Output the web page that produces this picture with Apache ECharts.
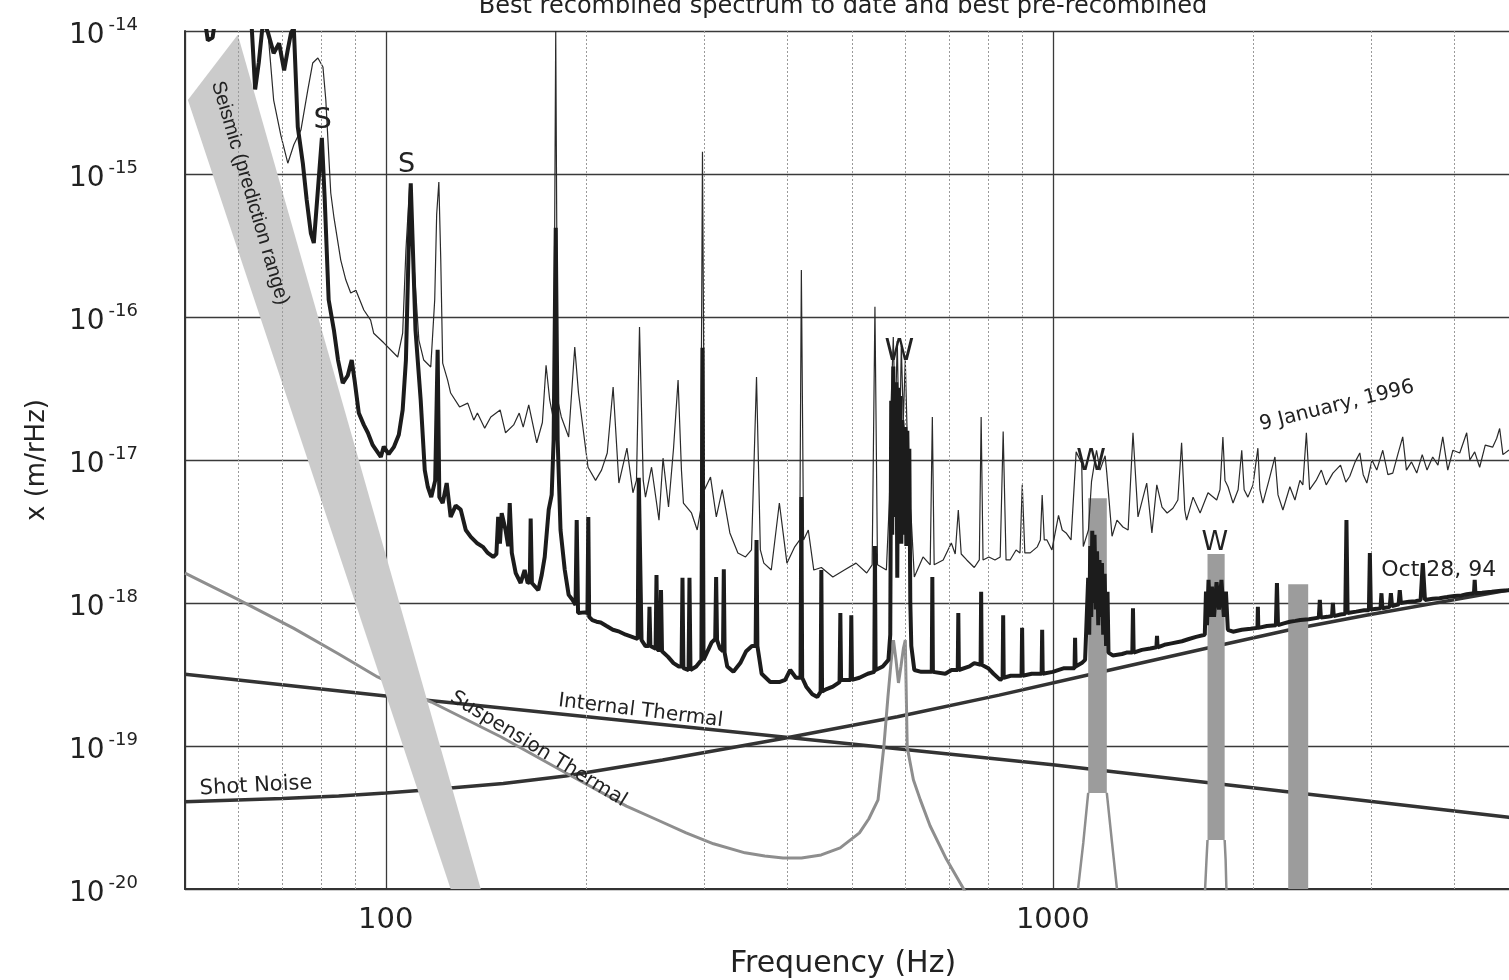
<!DOCTYPE html>
<html><head><meta charset="utf-8">
<script src="https://cdn.jsdelivr.net/npm/echarts@6/dist/echarts.min.js"></script>
<style>html,body{margin:0;padding:0;background:#fff;overflow:hidden}#c{width:1509px;height:980px}</style>
</head><body><div id="c"></div>
<script>
// ---------- tick labels ----------
const xLabelTicks = [100, 1000];
const yLabelExps = [-20, -19, -18, -17, -16, -15, -14];
const xMinorTicks = [60, 70, 80, 90, 200, 300, 400, 500, 600, 700, 800, 900, 2000, 3000, 4000];
const yMinorMantissas = [2, 3, 4, 5, 6, 7, 8, 9];

// ---------- theory curves [Hz, m/rHz] ----------
const shotNoise = [[50,4.07e-20],[70,4.3e-20],[85,4.47e-20],[100,4.69e-20],[120,5.0e-20],[150,5.47e-20],[186,6.17e-20],[260,7.98e-20],[394,1.13e-19],[585,1.6e-19],[831,2.27e-19],[1137,3.16e-19],[1700,4.82e-19],[2267,6.5e-19],[2950,8.2e-19],[4825,1.23e-18],[5000,1.27e-18]];
const internalThermal = [[50,3.17e-19],[100,2.24e-19],[1000,7.4e-20],[4825,3.17e-20],[5000,3.1e-20]];
const suspensionThermal = [[50,1.62e-18],[60,1.06e-18],[72.8,6.65e-19],[85,4.4e-19],[97.2,3.04e-19],[117,2.03e-19],[148.7,1.16e-19],[186,6.5e-20],[229.5,3.8e-20],[255,3.05e-20],[282,2.47e-20],[310,2.07e-20],[345.6,1.79e-20],[370,1.7e-20],[394,1.65e-20],[420,1.65e-20],[449.6,1.73e-20],[480,1.94e-20],[513,2.47e-20],[530,3.1e-20],[547,4.2e-20],[558,9.8e-20],[566,2.2e-19],[572,3.8e-19],[577,5.5e-19],[582,4.0e-19],[587,2.76e-19],[592,3.6e-19],[597,4.8e-19],[601,5.5e-19],[605,9.8e-20],[618,5.8e-20],[633,4.2e-20],[654.6,2.77e-20],[692.5,1.62e-20],[737,9.8e-21],[760,7e-21]];
// seismic prediction band outline (lower edge start, upper edge start, upper edge end, lower edge end)
const seismicBand = [[50.5,3.29e-15],[60,9.4e-15],[138.8,1.0e-20],[125.1,1.0e-20]];
// violin-mode harmonics of the suspension thermal curve
const violinBandLo = [1130, 1706, 2254];
const violinBandHi = [1205, 1810, 2415];
const violinBandTop = [5.4e-18, 2.2e-18, 1.35e-18];
const violinBandBase = [4.7e-20, 2.2e-20, 9.0e-21];
const violinSkirts = [
  [[1091,1.0e-20],[1111,2.1e-20],[1130,4.7e-20]],
  [[1205,4.7e-20],[1227,2.1e-20],[1248,1.0e-20]],
  [[1690,9.0e-21],[1700,1.6e-20],[1706,2.2e-20]],
  [[1810,2.2e-20],[1816,1.6e-20],[1822,9.0e-21]]
];

// ---------- measured spectra [Hz, m/rHz] ----------
const oct94 = [[50,1.5e-14],[53.4,1.3e-14],[54.1,8.6e-15],[55,9.0e-15],[55.6,1.3e-14],[62.8,1.3e-14],[63.7,3.9e-15],[64.5,6.0e-15],[65.5,1.2e-14],[66.6,9.7e-15],[67.9,7.0e-15],[69.2,8.2e-15],[70.4,5.3e-15],[71.3,7.4e-15],[72.1,9.7e-15],[72.8,1.05e-14],[73.8,2.13e-15],[75.1,1.19e-15],[76.1,6.6e-16],[77.2,3.86e-16],[78.0,3.29e-16],[79.1,7.7e-16],[80.2,1.79e-15],[81.0,6.6e-16],[82.1,1.32e-16],[83.6,8.1e-17],[84.8,5.0e-17],[86.2,3.45e-17],[87.7,3.9e-17],[88.9,5.0e-17],[89.8,3.6e-17],[91.1,2.13e-17],[92.7,1.76e-17],[94.0,1.55e-17],[95.6,1.27e-17],[98.3,1.05e-17],[99.3,1.24e-17],[101,1.1e-17],[102.8,1.23e-17],[104.6,1.5e-17],[106,2.24e-17],[107.2,5.0e-17],[108.2,2.95e-16],[109.0,8.6e-16],[109.7,3.45e-16],[110.8,8.1e-17],[112.8,2.63e-17],[114.4,8.5e-18],[115.6,6.5e-18],[117,5.5e-18],[118.6,7.2e-18],[119.2,7.0e-18],[119.6,5.9e-17],[120.3,5.5e-18],[121.7,5.0e-18],[123.4,6.9e-18],[125.1,4.0e-18],[127.3,4.8e-18],[129.5,4.5e-18],[131.8,3.24e-18],[134.1,2.9e-18],[136.9,2.63e-18],[139.8,2.47e-18],[142.2,2.24e-18],[144.9,2.1e-18],[146.5,2.2e-18],[147.4,4.0e-18],[148.3,2.6e-18],[149.2,4.25e-18],[151.2,3.24e-18],[152.6,2.5e-18],[153.4,5.0e-18],[154.5,2.24e-18],[156.6,1.62e-18],[159.3,1.38e-18],[161.5,1.7e-18],[163.2,1.38e-18],[164.4,1.4e-18],[164.9,3.9e-18],[165.6,1.38e-18],[169.3,1.23e-18],[171.3,1.57e-18],[173.1,2.1e-18],[175.5,4.5e-18],[177.3,5.7e-18],[178.5,1.38e-17],[179.8,4.2e-16],[181,1.38e-17],[182.8,3.24e-18],[185.5,1.7e-18],[188,1.14e-18],[190.6,1.05e-18],[192.5,9.7e-19],[193.3,3.8e-18],[194.2,8.5e-19],[198.6,8.6e-19],[200.6,8.5e-19],[201.2,4.0e-18],[201.8,8.0e-19],[204,7.6e-19],[207,7.4e-19],[210,7.3e-19],[214.3,6.9e-19],[219,6.5e-19],[224,6.3e-19],[229,6.0e-19],[234,5.8e-19],[238.6,5.6e-19],[239.5,7.5e-18],[240.7,7.5e-18],[241.8,5.5e-19],[245.1,5.0e-19],[247.8,5.0e-19],[248.5,9.4e-19],[249.3,5.0e-19],[253.8,4.8e-19],[254.6,1.57e-18],[255.4,4.7e-19],[257.8,4.7e-19],[258.6,1.23e-18],[259.5,4.6e-19],[265,4.2e-19],[270,3.8e-19],[275,3.6e-19],[277.6,3.6e-19],[278.5,1.5e-18],[279.4,3.5e-19],[284.4,3.4e-19],[285.3,1.5e-18],[286.3,3.4e-19],[292,3.6e-19],[297.3,4.0e-19],[298.4,6.1e-17],[299.5,4.0e-19],[303,4.5e-19],[308,5.3e-19],[311.8,5.6e-19],[312.8,1.52e-18],[313.8,5.5e-19],[317,4.8e-19],[320.3,4.6e-19],[321.2,1.72e-18],[322.1,4.5e-19],[325,3.6e-19],[332,3.3e-19],[340,3.8e-19],[347,4.6e-19],[354,5.0e-19],[358.5,5.0e-19],[359.6,2.76e-18],[360.7,5.0e-19],[366,3.2e-19],[377,2.8e-19],[389,2.8e-19],[397,2.9e-19],[404,3.4e-19],[412,3.0e-19],[418.6,3.0e-19],[419.8,5.5e-18],[421,3.0e-19],[427,2.6e-19],[436,2.3e-19],[443.6,2.2e-19],[448.7,2.4e-19],[449.8,1.7e-18],[450.9,2.4e-19],[458,2.5e-19],[468,2.6e-19],[479,2.8e-19],[480.3,8.5e-19],[481.5,2.9e-19],[497.6,2.9e-19],[498.8,8.2e-19],[500,2.9e-19],[513,3.0e-19],[528,3.2e-19],[540,3.3e-19],[541.2,2.5e-18],[542.5,3.4e-19],[556,3.6e-19],[567,4.0e-19],[570.6,6e-19],[572.5,2.6e-17],[574.5,3e-18],[576.6,4.5e-17],[578.6,4e-18],[580.6,2.4e-17],[582.6,3.5e-17],[584.6,1.5e-18],[586.7,3.2e-17],[588.7,6e-18],[590.7,2.8e-17],[592.8,2.6e-18],[594.8,1.9e-17],[596.9,1.5e-17],[599,3e-18],[601,1.7e-17],[603.1,2.5e-18],[605.2,1.6e-17],[607.3,5e-18],[609.4,1.2e-17],[611.5,1e-18],[613.6,5e-19],[620,3.4e-19],[635,3.3e-19],[650,3.3e-19],[658.5,3.3e-19],[659.8,1.52e-18],[661.1,3.3e-19],[690,3.2e-19],[705,3.4e-19],[720.3,3.4e-19],[721.7,8.5e-19],[723.1,3.4e-19],[750,3.6e-19],[762.6,3.8e-19],[779.4,3.7e-19],[780.9,1.2e-18],[782.4,3.7e-19],[800,3.5e-19],[815,3.2e-19],[834,2.9e-19],[841,3.0e-19],[842.6,8.2e-19],[844.2,3.0e-19],[865,3.1e-19],[897.8,3.1e-19],[899.5,6.7e-19],[901.2,3.1e-19],[930,3.2e-19],[962.2,3.2e-19],[964,6.5e-19],[965.8,3.2e-19],[1000,3.3e-19],[1040,3.5e-19],[1078,3.5e-19],[1080,5.7e-19],[1082,3.6e-19],[1105,3.8e-19],[1118,4e-19],[1125,4e-19],[1130,1.5e-18],[1134,6e-19],[1138,2.5e-18],[1142,8e-19],[1146,3.2e-18],[1150,1e-18],[1155,3.0e-18],[1160,9e-19],[1165,2.3e-18],[1170,7e-19],[1175,2.0e-18],[1180,8e-19],[1185,1.9e-18],[1190,6e-19],[1196,1.6e-18],[1202,5e-19],[1208,1.2e-18],[1212,4.5e-19],[1230,4.3e-19],[1270,4.4e-19],[1290,4.5e-19],[1316,4.5e-19],[1319,9.2e-19],[1322,4.5e-19],[1360,4.7e-19],[1400,4.8e-19],[1430,4.9e-19],[1433,5.9e-19],[1436,4.9e-19],[1470,5.1e-19],[1500,5.2e-19],[1562,5.4e-19],[1600,5.6e-19],[1640,5.8e-19],[1690,6.0e-19],[1697,1.2e-18],[1703,7e-19],[1712,1.45e-18],[1722,8e-19],[1732,1.3e-18],[1745,8e-19],[1760,1.4e-18],[1775,9e-19],[1790,1.45e-18],[1805,8e-19],[1818,1.2e-18],[1830,6.5e-19],[1863,6.3e-19],[1920,6.5e-19],[1980,6.6e-19],[2027,6.7e-19],[2030,9.4e-19],[2033,6.7e-19],[2094,6.9e-19],[2160,7.0e-19],[2168,1.38e-18],[2176,7.0e-19],[2220,7.2e-19],[2267,7.4e-19],[2310,7.5e-19],[2350,7.6e-19],[2420,7.7e-19],[2505,7.9e-19],[2514,1.05e-18],[2523,7.9e-19],[2580,8.0e-19],[2622,8.1e-19],[2630,1.0e-18],[2638,8.1e-19],[2700,8.3e-19],[2745,8.4e-19],[2756,3.8e-18],[2767,8.5e-19],[2850,8.7e-19],[2930,8.9e-19],[2978,8.9e-19],[2988,2.24e-18],[2998,9.0e-19],[3060,9.1e-19],[3100,9.2e-19],[3110,1.17e-18],[3120,9.2e-19],[3200,9.4e-19],[3213,1.17e-18],[3226,9.5e-19],[3300,9.8e-19],[3313,1.23e-18],[3326,1.0e-18],[3420,1.02e-18],[3500,1.03e-18],[3560,1.05e-18],[3587,1.9e-18],[3614,1.05e-18],[3712,1.07e-18],[3800,1.08e-18],[3900,1.1e-18],[4000,1.12e-18],[4100,1.13e-18],[4174,1.15e-18],[4280,1.17e-18],[4291,1.45e-18],[4302,1.17e-18],[4400,1.18e-18],[4550,1.2e-18],[4700,1.22e-18],[4825,1.23e-18],[5000,1.26e-18]];

const jan96 = [[50,2.0e-14],[65,1.5e-14],[66.6,9.7e-15],[67.9,3.29e-15],[69.6,1.87e-15],[71.3,1.19e-15],[72.8,1.6e-15],[74.6,2.03e-15],[76.4,3.87e-15],[77.7,5.97e-15],[79.1,6.47e-15],[80.5,5.6e-15],[81.3,3.29e-15],[82.7,7.36e-16],[83.6,5.0e-16],[85.6,2.5e-16],[87.1,1.82e-16],[88.6,1.47e-16],[90.2,1.54e-16],[92.7,1.12e-16],[94.9,9.5e-17],[95.9,7.7e-17],[99.3,6.6e-17],[104.2,5.25e-17],[106.0,7.7e-17],[107.2,2.94e-16],[108.6,8.4e-16],[110.1,2.5e-16],[112.1,6.9e-17],[114.0,5.0e-17],[116.8,4.47e-17],[118.4,1.32e-16],[119.2,5.2e-16],[120.1,8.8e-16],[120.9,2.5e-16],[121.7,4.76e-17],[123.8,3.62e-17],[125.1,2.94e-17],[129.0,2.35e-17],[132.7,2.5e-17],[135.5,1.9e-17],[137.2,2.13e-17],[140.7,1.67e-17],[143.7,2.0e-17],[148.4,2.24e-17],[151.2,1.55e-17],[155.5,1.76e-17],[158.5,2.13e-17],[160.7,1.7e-17],[163.8,2.43e-17],[168.4,1.32e-17],[171.7,1.83e-17],[173.9,4.6e-17],[176.1,2.63e-17],[178.5,1.9e-17],[179.8,1.0e-14],[181,2.63e-17],[183.3,2.0e-17],[188.0,1.45e-17],[192,6.17e-17],[194.5,2.94e-17],[201,8.9e-18],[206.3,7.2e-18],[210.6,8.5e-18],[214.8,1.12e-17],[219.2,3.24e-17],[223.6,6.9e-18],[229.9,1.21e-17],[234.7,5.9e-18],[237.6,7.2e-18],[240.1,8.5e-17],[243.2,7.2e-18],[245.1,5.5e-18],[250.3,8.9e-18],[256.8,3.8e-18],[260.4,1.03e-17],[265.4,4.69e-18],[270,1.2e-17],[274.3,3.62e-17],[277.5,8.5e-18],[279.4,5.0e-18],[287.3,4.26e-18],[293,3.24e-18],[296.5,4.47e-18],[298.4,1.43e-15],[300.5,6.2e-18],[306.8,7.6e-18],[313,4.0e-18],[319.5,6.2e-18],[328,3.09e-18],[337.2,2.24e-18],[346.2,2.1e-18],[353.4,2.35e-18],[359.6,3.8e-17],[364.4,2.35e-18],[368.8,1.9e-18],[378.4,1.7e-18],[389.1,5.0e-18],[399.4,1.9e-18],[410.3,2.47e-18],[417.5,2.76e-18],[419.8,2.13e-16],[423,2.76e-18],[430,3.24e-18],[438.2,1.7e-18],[449.8,1.77e-18],[468,1.52e-18],[487,1.7e-18],[507,1.9e-18],[526,1.62e-18],[536,1.85e-18],[541.2,1.18e-16],[546,1.85e-18],[563,1.7e-18],[569,5.25e-18],[572.5,2.63e-17],[576.6,7.25e-17],[580.6,1.9e-17],[584.6,6.8e-17],[588.7,1.0e-17],[592.8,6.3e-17],[596.9,1.9e-17],[601,5.0e-17],[607.3,7.2e-18],[613.6,3.8e-18],[620,1.52e-18],[639,2.1e-18],[655,1.85e-18],[659.8,2.0e-17],[664,1.85e-18],[685,2.0e-18],[704.5,2.63e-18],[714,2.2e-18],[721.7,4.47e-18],[729,2.2e-18],[743,2.0e-18],[762.6,1.77e-18],[776,2.0e-18],[780.9,2.0e-17],[786,2.0e-18],[802,2.1e-18],[819,2.0e-18],[834,2.1e-18],[842.6,1.58e-17],[851,2.0e-18],[863,2.0e-18],[881,2.35e-18],[893,2.24e-18],[900,6.7e-18],[908,2.24e-18],[925,2.24e-18],[948,2.47e-18],[958,2.76e-18],[964,5.7e-18],[971,2.76e-18],[980,2.76e-18],[997,2.35e-18],[1020,4.1e-18],[1033,3.24e-18],[1047,3.09e-18],[1065,2.76e-18],[1084,1.14e-17],[1105,9.5e-18],[1111,2.48e-18],[1131,3.24e-18],[1143,7.05e-18],[1163,1.17e-17],[1177,8.5e-18],[1198,1.07e-17],[1205,8.1e-18],[1227,2.93e-18],[1248,3.8e-18],[1274,3.4e-18],[1297,3.24e-18],[1319,1.55e-17],[1342,4.0e-18],[1383,6.9e-18],[1408,3.09e-18],[1432,6.7e-18],[1458,4.69e-18],[1484,4.26e-18],[1514,4.6e-18],[1540,5.25e-18],[1560,1.32e-17],[1577,4.47e-18],[1587,3.8e-18],[1623,5.5e-18],[1663,4.26e-18],[1709,5.9e-18],[1761,5.25e-18],[1781,6.2e-18],[1799,1.45e-17],[1812,7.2e-18],[1831,6.5e-18],[1863,5.0e-18],[1896,6.2e-18],[1920,1.17e-17],[1936,6.2e-18],[1961,5.5e-18],[1996,6.7e-18],[2030,1.21e-17],[2044,6.2e-18],[2065,5.0e-18],[2109,7.2e-18],[2153,1.05e-17],[2176,5.7e-18],[2213,4.47e-18],[2267,6.5e-18],[2307,5.25e-18],[2347,7.2e-18],[2371,6.7e-18],[2400,1.55e-17],[2427,6.2e-18],[2482,7.2e-18],[2527,8.5e-18],[2570,6.7e-18],[2630,8.1e-18],[2700,9.2e-18],[2750,7.0e-18],[2788,7.7e-18],[2840,9.7e-18],[2886,1.12e-17],[2920,7.9e-18],[2957,6.9e-18],[3010,1.0e-17],[3060,8.5e-18],[3124,1.17e-17],[3180,7.9e-18],[3234,8.1e-18],[3290,1.09e-17],[3347,1.45e-17],[3390,8.5e-18],[3450,9.7e-18],[3513,8.1e-18],[3580,1.09e-17],[3640,8.5e-18],[3712,1.05e-17],[3780,9.2e-18],[3843,1.45e-17],[3910,8.5e-18],[3980,1.17e-17],[4075,1.12e-17],[4174,1.55e-17],[4220,1.0e-17],[4291,1.14e-17],[4365,8.9e-18],[4450,1.27e-17],[4565,1.23e-17],[4630,1.42e-17],[4677,1.66e-17],[4730,1.09e-17],[4825,1.17e-17],[5000,1.2e-17]];

// ---------- annotations (text, anchor in data space) ----------
const noteText = ['S', 'S', 'W', 'W', 'W', 'Seismic (prediction range)', 'Shot Noise', 'Internal Thermal', 'Suspension Thermal', '9 January, 1996', 'Oct 28, 94'];
const noteFreq = [80.4, 107.4, 588.7, 1141, 1750, 62.6, 63.9, 241, 169.4, 2666, 3790];
const noteAmp = [2.36e-15, 1.16e-15, 5.7e-17, 9.7e-18, 2.63e-18, 7.36e-16, 5.25e-20, 1.76e-19, 9.5e-20, 2.39e-17, 1.7e-18];

const FONT = "'DejaVu Sans', 'Liberation Sans', sans-serif";
const NARROW = "'Liberation Sans', Arial, sans-serif";
const INK = '#222';
const noteStyle = [
  {size: 29, rot: 0, font: FONT}, {size: 27, rot: 0, font: FONT}, {size: 30, rot: 0, font: FONT}, {size: 30, rot: 0, font: FONT}, {size: 27, rot: 0, font: FONT},
  {size: 20, rot: -73.5, font: NARROW}, {size: 21, rot: 3, font: FONT}, {size: 20, rot: -7, font: FONT}, {size: 20, rot: -31.5, font: FONT}, {size: 20, rot: 14, font: FONT}, {size: 22, rot: 0, font: FONT}
];
const isDecade = v => Math.abs(Math.log10(v) - Math.round(Math.log10(v))) < 1e-6;

const yMinor = [];
yLabelExps.slice(0, -1).forEach(e => yMinorMantissas.forEach(m => yMinor.push(m * Math.pow(10, e))));

const chart = echarts.init(document.getElementById('c'), null, {renderer: 'canvas'});

const series = [];
// minor grid
series.push({
  type: 'line', z: 1, silent: true, data: [[100, 1e-25]], showSymbol: false,
  lineStyle: {opacity: 0},
  markLine: {
    silent: true, symbol: ['none', 'none'], label: {show: false}, animation: false,
    lineStyle: {type: [2, 2], color: '#9a9a9a', width: 1},
    emphasis: {disabled: true},
    data: xMinorTicks.map(v => ({xAxis: v})).concat(yMinor.map(v => ({yAxis: v})))
  }
});
const lineSeries = (name, data, color, width, z) => ({
  name, type: 'line', data, z, showSymbol: false, symbol: 'none', silent: true, clip: true,
  lineStyle: {color, width, join: 'bevel'}
});
series.push(lineSeries('Shot Noise', shotNoise, '#333', 3.5, 2));
series.push(lineSeries('Internal Thermal', internalThermal, '#333', 3.5, 2));
series.push(lineSeries('Suspension Thermal', suspensionThermal, '#8e8e8e', 3, 2));
violinSkirts.forEach((s, i) => series.push(lineSeries('violin' + i, s, '#8e8e8e', 2.5, 3)));
series.push({
  type: 'custom', z: 3, silent: true, clip: true,
  data: violinBandLo.map((lo, i) => [lo, violinBandTop[i]]),
  renderItem: (params, api) => {
    const i = params.dataIndex;
    const p1 = api.coord([violinBandLo[i], violinBandTop[i]]);
    const p2 = api.coord([violinBandHi[i], violinBandBase[i]]);
    return {type: 'rect', shape: {x: p1[0], y: p1[1], width: p2[0] - p1[0], height: p2[1] - p1[1]}, style: {fill: '#9c9c9c'}};
  }
});
series.push({
  type: 'custom', z: 3, silent: true, clip: true,
  data: [[100, 1e-17]],
  renderItem: (params, api) => ({
    type: 'polygon', shape: {points: seismicBand.map(p => api.coord(p))}, style: {fill: '#cbcbcb'}
  })
});
series.push(lineSeries('9 January, 1996', jan96, '#2a2a2a', 1.2, 4));
series.push(lineSeries('Oct 28, 94', oct94, '#1c1c1c', 4, 5));

chart.setOption({
  animation: false,
  backgroundColor: '#fff',
  grid: {left: 185, top: 31, width: 1334, height: 858, outerBoundsMode: 'none', containLabel: false},
  xAxis: {
    type: 'log', logBase: 10, min: 50, max: 5000,
    axisLine: {show: true, lineStyle: {color: '#333', width: 2}},
    axisTick: {show: false},
    splitLine: {show: true, lineStyle: {color: '#3a3a3a', width: 1.3}},
    axisLabel: {
      formatter: v => xLabelTicks.some(t => Math.abs(t - v) / t < 1e-6) ? String(Math.round(v)) : '',
      fontSize: 29, lineHeight: 29, fontFamily: FONT, color: INK, margin: 17
    },
    name: 'Frequency (Hz)', nameLocation: 'middle', nameGap: 60,
    nameTextStyle: {fontSize: 30, lineHeight: 30, fontFamily: FONT, color: INK, padding: [0, 18, 0, 0]}
  },
  yAxis: {
    type: 'log', logBase: 10, min: 1e-20, max: 1e-14,
    axisLine: {show: true, lineStyle: {color: '#333', width: 2}},
    axisTick: {show: false},
    splitLine: {show: true, lineStyle: {color: '#3a3a3a', width: 1.3}},
    axisLabel: {
      formatter: v => {
        if (!isDecade(v)) return '';
        const e = Math.round(Math.log10(v));
        return yLabelExps.indexOf(e) >= 0 ? '{b|10}{s|' + e + '}' : '';
      },
      margin: 47,
      rich: {
        b: {fontSize: 28, lineHeight: 46, fontFamily: FONT, color: INK, padding: [9, 0, 0, 0]},
        s: {fontSize: 18, lineHeight: 22, verticalAlign: 'top', fontFamily: FONT, color: INK, padding: [8, 0, 0, 4]}
      }
    },
    name: 'x (m/rHz)', nameLocation: 'middle', nameGap: 135,
    nameTextStyle: {fontSize: 26, fontFamily: FONT, color: INK}
  },
  series
});

const graphics = [{
  type: 'text', x: 843, y: 7, z: 100, silent: true,
  style: {text: 'Best recombined spectrum to date and best pre-recombined', fontSize: 24, fontFamily: FONT, fill: INK, align: 'center', verticalAlign: 'middle'}
}];
noteText.forEach((t, i) => {
  const p = chart.convertToPixel({xAxisIndex: 0, yAxisIndex: 0}, [noteFreq[i], noteAmp[i]]);
  graphics.push({
    type: 'text', x: p[0], y: p[1], rotation: noteStyle[i].rot * Math.PI / 180, z: 100, silent: true,
    style: {text: t, fontSize: noteStyle[i].size, fontFamily: noteStyle[i].font, fill: INK, align: 'center', verticalAlign: 'middle'}
  });
});
chart.setOption({graphic: graphics});
</script>
</body></html>
